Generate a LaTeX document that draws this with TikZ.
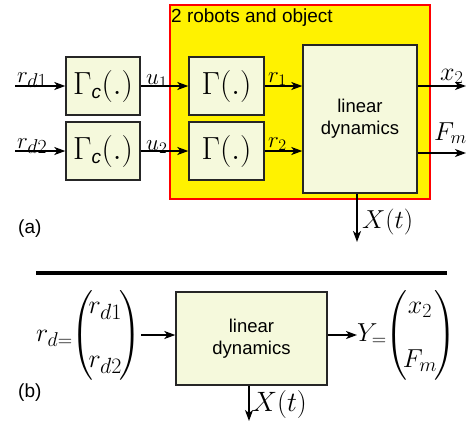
\documentclass[tikz,border=0pt]{standalone}
\usepackage{fix-cm}
\usepackage{amsmath}
\usepackage{fontspec}
\setmainfont{Liberation Sans}
\usetikzlibrary{arrows.meta,calc}
\definecolor{boxfill}{RGB}{245,249,220}
\newcommand{\sbx}[2]{\hbox{\fontsize{#1}{#1}\selectfont$#2$}}
\newcommand{\csub}{\hbox{\fontsize{19}{19}\selectfont\itshape c}}
\newcommand{\tightcol}[2]{\left(\mkern-3mu\begin{array}{@{}c@{}}#1\\[28pt]#2\end{array}\mkern-2mu\right)}
\tikzset{
  blk/.style={draw=black!85, line width=1.4pt, fill=boxfill, inner sep=0pt, align=center},
  conn/.style={line width=1.6pt, -{Stealth[length=11pt,width=8pt,inset=3pt]}},
  lblin/.style={inner sep=0pt, font=\fontsize{23}{27}\selectfont},
  lblout/.style={inner sep=0pt, font=\fontsize{26}{30}\selectfont},
  gam/.style={font=\fontsize{32}{36}\selectfont},
  plain/.style={inner sep=0pt, font=\fontsize{19}{22}\selectfont},
  mat/.style={inner sep=0pt, font=\fontsize{26}{26}\selectfont},
}
\begin{document}
\begin{tikzpicture}[x=1pt,y=-1pt]
\useasboundingbox (0,0) rectangle (473,426);
% ---------- part (a)
\node[draw=red, line width=1.6pt, fill=yellow, minimum width=260pt, minimum height=194pt, inner sep=0pt] (sys) at (300,102) {};
\node[plain, anchor=base west] (systitle) at (171,22) {2 robots and object};

\node[blk, gam, minimum width=74pt, minimum height=58pt] (gc1) at (103,86) {$\Gamma_{\csub}(.)$};
\node[blk, gam, minimum width=74pt, minimum height=58pt] (gc2) at (103,151) {$\Gamma_{\csub}(.)$};
\node[blk, gam, minimum width=75pt, minimum height=58pt] (g1) at (226.5,86) {$\Gamma(.)$};
\node[blk, gam, minimum width=75pt, minimum height=58pt] (g2) at (226.5,151) {$\Gamma(.)$};
\node[blk, font=\fontsize{18.5}{22}\selectfont, minimum width=114pt, minimum height=148pt] (ld) at (360,119) {linear\\dynamics};

\coordinate (in1) at (15,86);
\coordinate (in2) at (15,151);
\coordinate (out1) at (466,86);
\coordinate (out2) at (466,153);
\coordinate (xa) at (357,242);

\draw[conn] (in1) -- (gc1.west);
\draw[conn] (in2) -- (gc2.west);
\draw[conn] (gc1.east) -- (g1.west);
\draw[conn] (gc2.east) -- (g2.west);
\draw[conn] (g1.east) -- (g1.east -| ld.west);
\draw[conn] (g2.east) -- (g2.east -| ld.west);
\draw[conn] (ld.east |- out1) -- (out1);
\draw[conn] (ld.east |- out2) -- (out2);
\draw[conn] (ld.south -| xa) -- (xa);

\node[lblin, anchor=base west] (lrd1) at (17,82) {$r_{\sbx{20}{d1}}$};
\node[lblin, anchor=base west] (lrd2) at (17,148) {$r_{\sbx{20}{d2}}$};
\node[lblin, anchor=base west] (lu1) at (146,84) {$u_1$};
\node[lblin, anchor=base west] (lu2) at (146,150) {$u_2$};
\node[lblin, anchor=base west] (lr1) at (268,82) {$r_1$};
\node[lblin, anchor=base west] (lr2) at (268,147) {$r_2$};
\node[lblout, anchor=base west] (lx2) at (440,80) {$x_2$};
\node[lblout, anchor=base west] (lfm) at (434,140) {$F_m$};
\node[lblout, anchor=west] (lxa) at (362,222) {$X(t)$};
\node[plain, anchor=west] (la) at (18,229) {(a)};

% ---------- separator
\coordinate (sepL) at (36,273);
\coordinate (sepR) at (447,273);
\draw[line width=4pt] (sepL) -- (sepR);

% ---------- part (b)
\node[blk, font=\fontsize{18.5}{22}\selectfont, minimum width=151pt, minimum height=93pt] (ldb) at (251.5,338.5) {linear\\dynamics};
\node[mat, anchor=east] (rd) at (141,335) {$r_{\sbx{20}{d{=}}}\mkern-4mu\tightcol{r_{\sbx{22}{d1}}}{r_{\sbx{22}{d2}}}$};
\node[mat, anchor=west] (yv) at (357,335) {$Y_{\sbx{20}{{=}}}\mkern-4mu\tightcol{x_{\sbx{20}{2}}}{F_{\sbx{20}{m}}}$};
\coordinate (xb) at (249,421);
\draw[conn] (rd.east) -- (ldb.west |- rd.east);
\draw[conn] (ldb.east |- yv.west) -- (yv.west);
\draw[conn] (ldb.south -| xb) -- (xb);
\node[lblout, anchor=west, font=\fontsize{28}{32}\selectfont] (lxb) at (252,404) {$X(t)$};
\node[plain, anchor=west] (lb) at (18,393) {(b)};
\end{tikzpicture}
\end{document}
